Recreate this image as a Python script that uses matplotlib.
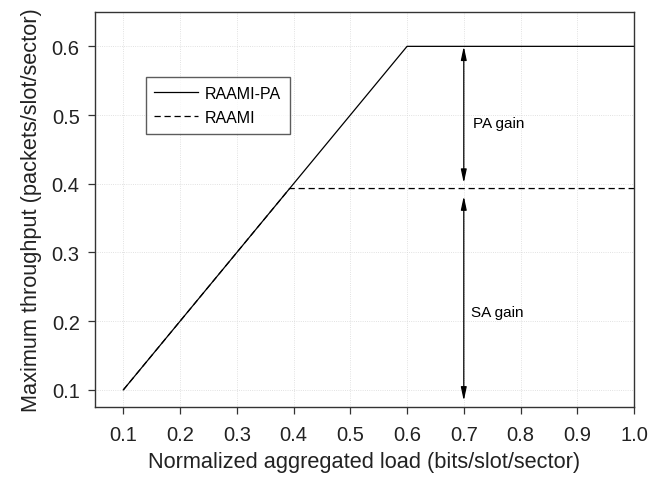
import matplotlib
matplotlib.use("Agg")
import matplotlib.pyplot as plt

# Data
load_pa = [0.1, 0.6, 1.0]
thr_pa = [0.1, 0.6, 0.6]
load_raami = [0.1, 0.393, 1.0]
thr_raami = [0.1, 0.393, 0.393]
x_ticks = [0.1, 0.2, 0.3, 0.4, 0.5, 0.6, 0.7, 0.8, 0.9, 1.0]
y_ticks = [0.1, 0.2, 0.3, 0.4, 0.5, 0.6]
gain_x = 0.7

plt.rcParams['font.family'] = ['Liberation Sans', 'DejaVu Sans']

fig = plt.figure(figsize=(6.51, 4.81), dpi=100)
ax = fig.add_axes([95 / 651, 1 - 408 / 481, 539 / 651, 395 / 481])

ax.plot(load_pa, thr_pa, color='black', lw=0.9, label='RAAMI-PA')
ax.plot(load_raami, thr_raami, color='black', lw=0.9, ls=(0, (5, 3)), label='RAAMI')

# gain arrows
arrow = dict(arrowstyle='<|-|>,head_length=0.8,head_width=0.17', color='black',
             lw=0.9, mutation_scale=10, shrinkA=0, shrinkB=0)
ax.annotate('', xy=(gain_x, thr_pa[1]), xytext=(gain_x, 0.401), arrowprops=arrow)
ax.annotate('', xy=(gain_x, 0.382), xytext=(gain_x, 0.084), arrowprops=arrow)
ax.text(0.716, 0.488, 'PA gain', fontsize=11, va='center')
ax.text(0.713, 0.214, 'SA gain', fontsize=11, va='center')

ax.set_xlim(0.05, 1.0)
ax.set_ylim(0.075, 0.65)
ax.set_xticks(x_ticks)
ax.set_yticks(y_ticks)
ax.set_xticklabels([f'{v:.1f}' for v in x_ticks])
ax.set_yticklabels([f'{v:.1f}' for v in y_ticks])
ax.tick_params(labelsize=14.5, length=5, width=0.9, color='#333333', labelcolor='#222222')
ax.tick_params(axis='x', pad=8)
ax.tick_params(axis='y', pad=6)
ax.grid(True, color='#d8d8d8', lw=0.6, ls=':')
for s in ax.spines.values():
    s.set_color('#333333')
    s.set_linewidth(1.0)

ax.set_xlabel('Normalized aggregated load (bits/slot/sector)', fontsize=15.7,
              color='#222222', labelpad=5)
ax.set_ylabel('Maximum throughput (packets/slot/sector)', fontsize=15.7,
              color='#222222', labelpad=7)

leg = ax.legend(loc='upper left', bbox_to_anchor=(0.094, 0.835), fontsize=11.5,
                frameon=True, fancybox=False, edgecolor='#333333', borderaxespad=0,
                handlelength=2.75, handletextpad=0.4, borderpad=0.55, labelspacing=0.55)
leg.get_frame().set_linewidth(1.0)

fig.savefig('out.png', dpi=100)
